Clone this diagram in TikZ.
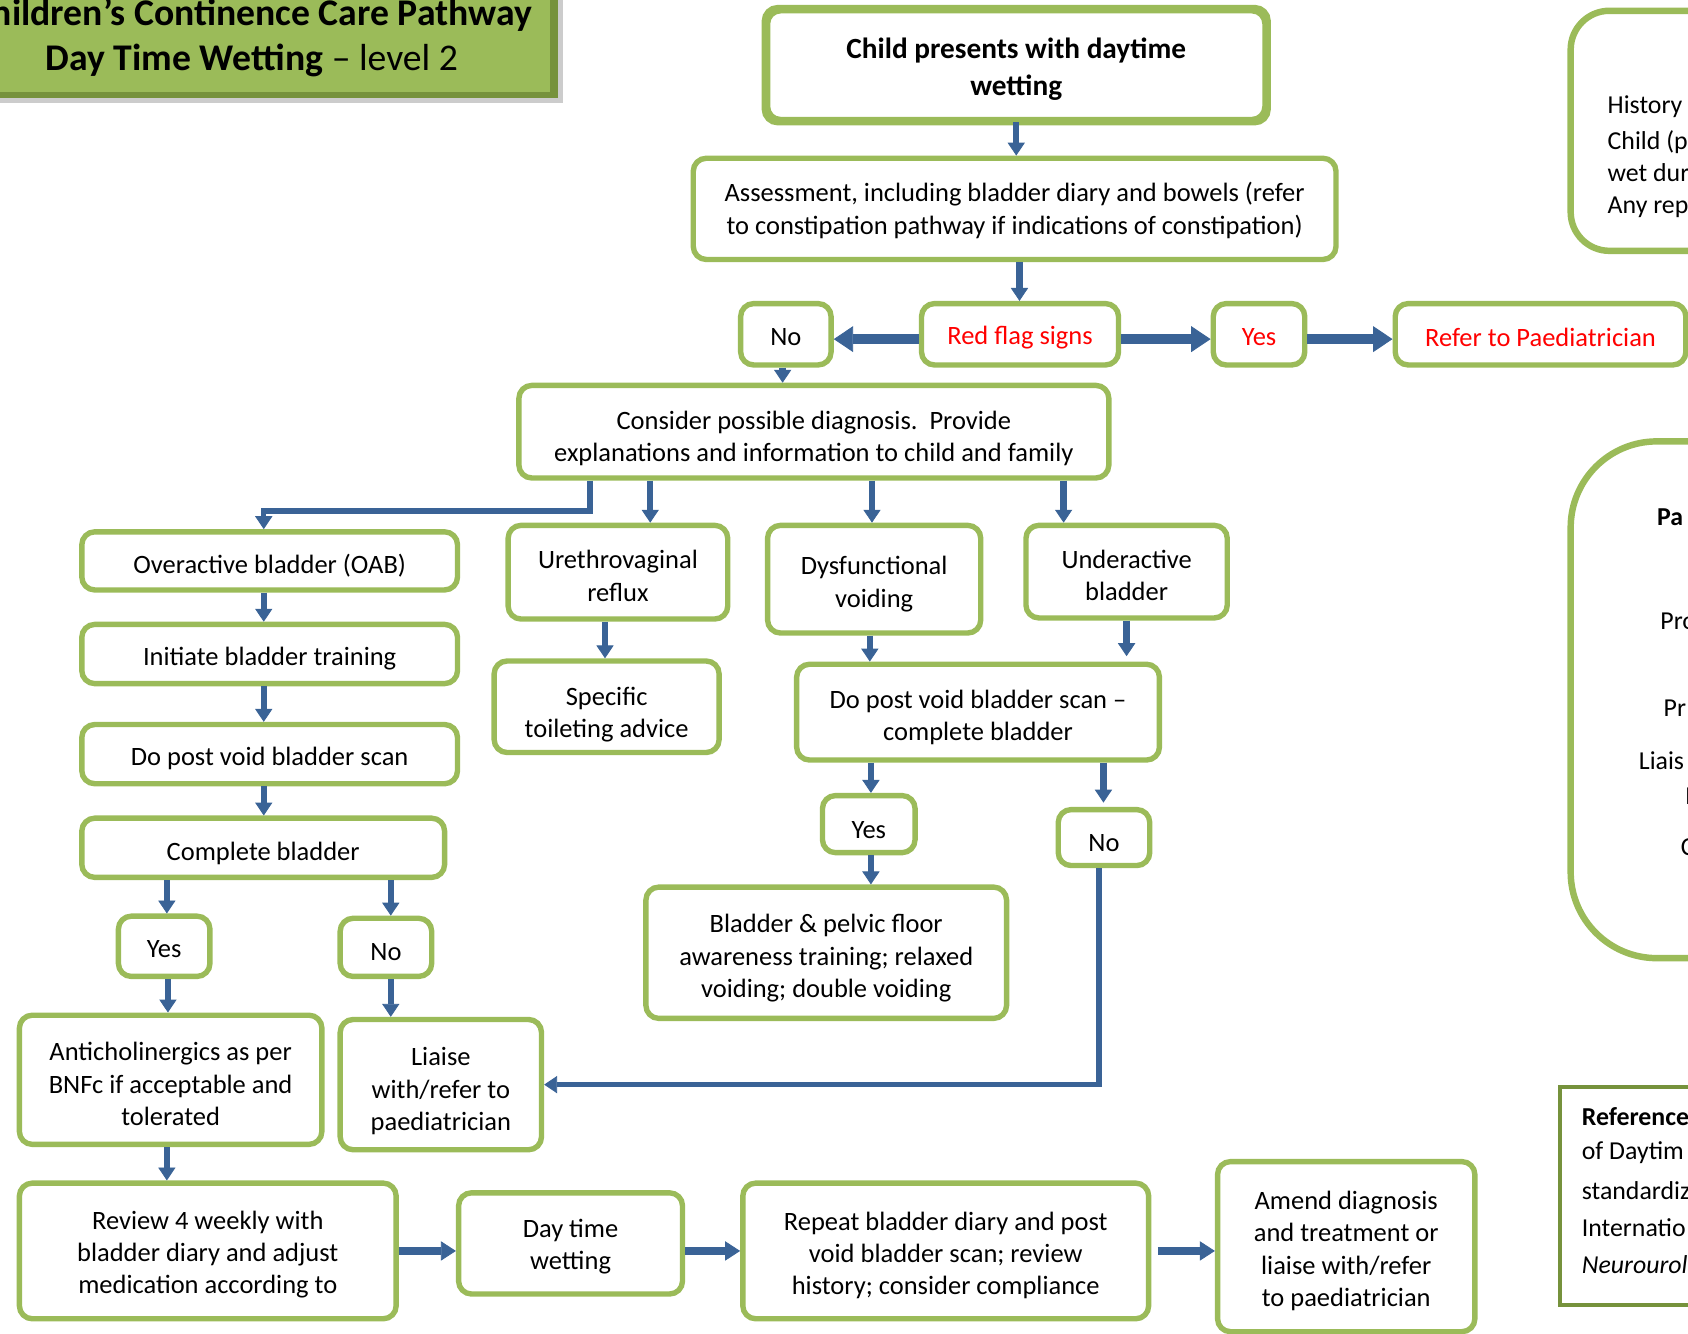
\documentclass[tikz,border=0pt]{standalone}
\usepackage{fontspec}
\setmainfont{Carlito}
\usetikzlibrary{arrows.meta}

\definecolor{leaf}{HTML}{9BBB59}
\definecolor{leafdark}{HTML}{76923C}
\definecolor{flowblue}{HTML}{3A6396}
\definecolor{alert}{HTML}{FF0000}

\tikzset{
  box/.style={draw=leaf, line width=2.5pt, rounded corners=6pt, fill=white, inner sep=0pt},
  boxtext/.style={align=center, inner sep=0pt, font=\fontsize{12.3}{15}\selectfont},
  redtext/.style={text=alert},
  flow/.style={draw=flowblue, line width=3pt,
    -{Triangle[width=8pt,length=6pt,line width=0.4pt]}},
  wideflow/.style={draw=flowblue, line width=4.5pt,
    -{Triangle[width=12pt,length=9pt,line width=0.4pt]}},
  midflow/.style={draw=flowblue, line width=3.5pt,
    -{Triangle[width=9pt,length=7pt,line width=0.4pt]}},
  elbow/.style={draw=flowblue, line width=2.5pt,
    -{Triangle[width=8pt,length=6pt,line width=0.4pt]}},
  sidetext/.style={anchor=west, inner sep=0pt, font=\fontsize{12}{14}\selectfont},
  titletext/.style={align=center, inner sep=0pt, font=\fontsize{17.5}{21}\selectfont},
}

% \pbox[text options]{name}{x}{y}{width}{height}{text drop}{text}
% draws a rounded box centred at (x,y) and its text a little below the centre
\newcommand\pbox[8][]{%
  \node[box, minimum width=#5*0.5pt, minimum height=#6*0.5pt] (#2) at (#3,#4) {};
  \node[boxtext, #1] (#2-text) at (#3,{#4+#7}) {#8};}

\begin{document}
\begin{tikzpicture}[x=0.5pt, y=-0.5pt]
\useasboundingbox (0,0) rectangle (1568,1239);
\clip (0,0) rectangle (1568,1239);

% title banner
\fill[black!20] (-60,-30) rectangle (523,96);
\fill[leafdark] (-60,-30) rectangle (518,91);
\fill[leaf] (-60,-30) rectangle (511,85);
\node[titletext] (title) at (234,35)
  {\bfseries Children’s Continence Care Pathway\\
   \textbf{Day Time Wetting} – level 2};

% side panels at the right edge
\draw[leaf, line width=3pt, rounded corners=18pt] (1459,10) rectangle (1720,233);
\node[sidetext] (h1) at (1493,99) {History o};
\node[sidetext] (h2) at (1493,132) {Child (pa};
\node[sidetext] (h3) at (1493,160) {wet duri};
\node[sidetext] (h4) at (1493,193) {Any repo};

\draw[leaf, line width=3pt, rounded corners=40pt] (1459,410) rectangle (1760,890);
\node[sidetext, font=\bfseries\fontsize{12}{14}\selectfont] (p1) at (1539,480) {Pa};
\node[sidetext] (p2) at (1542,577) {Pro};
\node[sidetext] (p3) at (1545,658) {Pr};
\node[sidetext] (p4) at (1522,707) {Liais};
\node[sidetext] (p5) at (1565,740) {I};
\node[sidetext] (p6) at (1561,787) {C};

\draw[leafdark, line width=1.8pt] (1449,1010) rectangle (1720,1212);
\node[sidetext, font=\bfseries\fontsize{12}{14}\selectfont] (r1) at (1469,1037) {Reference};
\node[sidetext] (r2) at (1469,1071) {of Daytim};
\node[sidetext] (r3) at (1469,1106) {standardiz};
\node[sidetext] (r4) at (1469,1140) {Internatio};
\node[sidetext, font=\itshape\fontsize{12}{14}\selectfont] (r5) at (1469,1175) {Neurourol};

% main pathway
\pbox[font=\bfseries\fontsize{13.6}{17}\selectfont]{child}{944}{60.5}{462}{101}{3.5}
  {Child presents with daytime\\wetting}
\draw[leaf, line width=3pt, rounded corners=6pt] (child.south west) rectangle (child.north east);
\pbox{assess}{942.5}{194}{597}{94}{1.5}
  {Assessment, including bladder diary and bowels (refer\\to constipation pathway if indications of constipation)}
\pbox{no1}{730}{310.5}{84}{57}{3}{No}
\pbox[redtext]{red}{947.5}{310.5}{183}{57}{3}{Red flag signs}
\pbox[redtext]{yes1}{1169.5}{310.5}{85}{57}{3}{Yes}
\pbox[redtext]{refer}{1431}{310.5}{270}{57}{3}{Refer to Paediatrician}
\pbox{consider}{756}{401}{548}{86}{6.5}
  {Consider possible diagnosis.\ \ Provide\\explanations and information to child and family}

% overactive bladder branch
\pbox{oab}{250.5}{521}{349}{54}{4}{Overactive bladder (OAB)}
\pbox{train}{250.5}{607.5}{349}{55}{4}{Initiate bladder training}
\pbox{scan1}{250.5}{700.5}{349}{55}{4}{Do post void bladder scan}
\pbox{complete}{244.5}{787.5}{337}{55}{5}{Complete bladder}
\pbox{yes2}{152.5}{879}{85}{56}{3}{Yes}
\pbox{no2}{358.5}{880}{85}{54}{4}{No}
\pbox{anti}{158.5}{1003}{281}{120}{4}
  {Anticholinergics as per\\BNFc if acceptable and\\tolerated}
\pbox{liaise}{409.5}{1007.5}{187}{121}{6}{Liaise\\with/refer to\\paediatrician}
\pbox{review}{193}{1162}{350}{126}{3.5}
  {Review 4 weekly with\\bladder diary and adjust\\medication according to}
\pbox{daytime}{530}{1155}{208}{94}{3}{Day time\\wetting}
\pbox{repeat}{878.5}{1162}{377}{126}{4}
  {Repeat bladder diary and post\\void bladder scan; review\\history; consider compliance}
\pbox{amend}{1250.5}{1158}{239}{158}{4}
  {Amend diagnosis\\and treatment or\\liaise with/refer\\to paediatrician}

% other diagnoses
\pbox{urethro}{574}{531.5}{204}{87}{3.5}{Urethrovaginal\\reflux}
\pbox{specific}{563.5}{656.5}{209}{85}{7}{Specific\\toileting advice}
\pbox{dysf}{812}{538}{198}{100}{4.5}{Dysfunctional\\voiding}
\pbox{under}{1046.5}{531}{187}{86}{3.5}{Underactive\\bladder}
\pbox{scan2}{908.5}{661.5}{337}{89}{5}{Do post void bladder scan –\\complete bladder}
\pbox{yes3}{807}{765.5}{86}{53}{6}{Yes}
\pbox{no3}{1025.5}{778}{85}{52}{5}{No}
\pbox{pelvic}{767.5}{885}{335}{122}{5}
  {Bladder \& pelvic floor\\awareness training; relaxed\\voiding; double voiding}

% connectors
\draw[flow] (child.south) -- (child.south |- assess.north);
\draw[flow] ([xshift=2.25pt]assess.south) -- ([xshift=2.25pt]assess.south |- red.north);
\draw[wideflow] ([yshift=-2.25pt]red.west) -- ([yshift=-2.25pt]no1.east);
\draw[wideflow] ([yshift=-2.25pt]red.east) -- ([yshift=-2.25pt]yes1.west);
\draw[wideflow] ([yshift=-2.25pt]yes1.east) -- ([yshift=-2.25pt]refer.west);
\draw[flow] ([xshift=-1.5pt]no1.south) -- ([xshift=-1.5pt]no1.south |- consider.north);

\draw[elbow] ([xshift=-104pt]consider.south) -- ++(0,28) -| ([xshift=-2.75pt]oab.north);
\draw[flow] ([xshift=-76pt]consider.south) -- ([xshift=-76pt]consider.south |- urethro.north);
\draw[flow] ([xshift=27pt]consider.south) -- ([xshift=27pt]consider.south |- dysf.north);
\draw[flow] ([xshift=116pt]consider.south) -- ([xshift=116pt]consider.south |- under.north);

\draw[flow] ([xshift=-2.75pt]oab.south) -- ([xshift=-2.75pt]oab.south |- train.north);
\draw[flow] ([xshift=-2.75pt]train.south) -- ([xshift=-2.75pt]train.south |- scan1.north);
\draw[flow] ([xshift=-2.75pt]scan1.south) -- ([xshift=-2.75pt]scan1.south |- complete.north);
\draw[flow] ([xshift=-44.75pt]complete.south) -- ([xshift=-44.75pt]complete.south |- yes2.north);
\draw[flow] ([xshift=59.25pt]complete.south) -- ([xshift=59.25pt]complete.south |- no2.north);
\draw[flow] ([xshift=1.75pt]yes2.south) -- ([xshift=1.75pt]yes2.south |- anti.north);
\draw[flow] ([xshift=2.25pt]no2.south) -- ([xshift=2.25pt]no2.south |- liaise.north);
\draw[flow] ([xshift=-1.75pt]anti.south) -- ([xshift=-1.75pt]anti.south |- review.north);

\draw[midflow] (review.east) -- (review.east -| daytime.west);
\draw[midflow] (repeat.west -| daytime.east) -- (repeat.west);
\draw[midflow] ([xshift=3pt]repeat.east) -- (repeat.east -| amend.west);

\draw[flow] ([xshift=-6pt]urethro.south) -- ([xshift=-6pt]urethro.south |- specific.north);
\draw[flow] ([xshift=-2pt]dysf.south) -- ([xshift=-2pt]dysf.south |- scan2.north);
\draw[flow] (under.south) -- ([yshift=2.5pt]under.south |- scan2.north);
\draw[flow] ([xshift=-49.75pt]scan2.south) -- ([xshift=-49.75pt]scan2.south |- yes3.north);
\draw[flow] ([xshift=58.25pt]scan2.south) -- ([xshift=58.25pt,yshift=2pt]scan2.south |- no3.north);
\draw[flow] ([xshift=1pt]yes3.south) -- ([xshift=1pt]yes3.south |- pelvic.north);
\draw[elbow] ([xshift=-2.25pt]no3.south) |- (liaise.east);
\end{tikzpicture}
\end{document}
